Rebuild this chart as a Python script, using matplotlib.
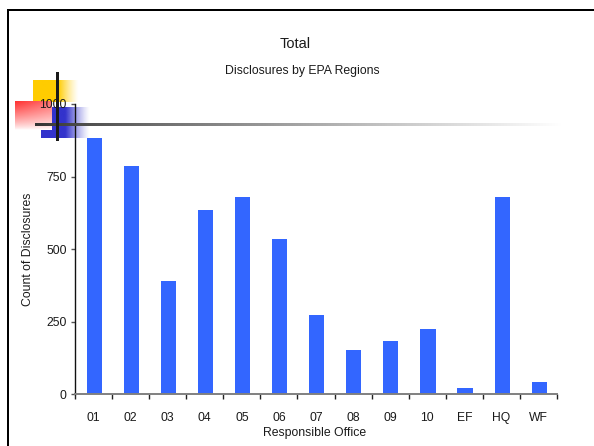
import numpy as np
import matplotlib
matplotlib.use("Agg")
import matplotlib.pyplot as plt
from matplotlib.patches import Rectangle

plt.rcParams['font.family'] = ['Liberation Sans', 'DejaVu Sans']

# Disclosure counts per responsible office
offices = ['01', '02', '03', '04', '05', '06', '07', '08', '09', '10', 'EF', 'HQ', 'WF']
counts = [883, 786, 390, 634, 679, 534, 273, 152, 183, 225, 22, 679, 43]
y_ticks = [0, 250, 500, 750, 1000]

W, H = 594, 446
fig = plt.figure(figsize=(W / 100, H / 100), dpi=100)

# background layer in pixel coordinates: slide frame and corner ornament
bg = fig.add_axes([0, 0, 1, 1], zorder=-1)
bg.set_xlim(0, W)
bg.set_ylim(H, 0)
bg.axis('off')

bg.add_patch(Rectangle((6.7, 9), 2.4, H, color='black', lw=0))
bg.add_patch(Rectangle((6.7, 9), W, 2.4, color='black', lw=0))


def fade_strip(x0, x1, y0, y1, rgb, solid_frac):
    # solid colour on the left, fading out to the right
    n = 200
    xs = np.linspace(0, 1, n)
    a = np.clip((1 - xs) / (1 - solid_frac), 0, 1)
    a = np.where(xs < solid_frac, 1.0, a) ** 1.3
    img = np.zeros((1, n, 4))
    img[..., :3] = rgb
    img[..., 3] = a
    bg.imshow(img, extent=(x0, x1, y1, y0), aspect='auto', interpolation='bilinear')


fade_strip(33, 78.3, 80, 101.7, (1.0, 0.8, 0.0), 0.55)
fade_strip(41, 90, 106.7, 137.7, (0.2, 0.2, 0.8), 0.5)

# red square, opaque gradient from red to white
ny, nx = 60, 80
yy, xx = np.mgrid[0:1:ny * 1j, 0:1:nx * 1j]
f = np.clip(0.95 * (1 - yy) ** 0.8 * (1 - 0.3 * xx), 0, 1)
red = np.ones((ny, nx, 3))
red[..., 1] = 1 - f * 0.85
red[..., 2] = 1 - f * 0.85
bg.imshow(red, extent=(15, 51.7, 130, 101.7), aspect='auto', interpolation='bilinear')

# main bar chart
ax = fig.add_axes([75 / W, 1 - 394.3 / H, 482 / W, 290.3 / H])
ax.set_facecolor('none')
x = np.arange(len(offices))
ax.bar(x + 0.02, counts, width=0.41, color='#3366FF', lw=0, zorder=2)

ax.set_xlim(-0.5, len(offices) - 0.5)
ax.set_ylim(0, 1000)
ax.set_yticks(y_ticks)
ax.set_yticklabels([str(v) for v in y_ticks], fontsize=8.7, color='#1a1a1a')
ax.set_xticks(x)
ax.set_xticklabels(offices, fontsize=8.7, color='#1a1a1a')
ax.set_xticks(np.arange(len(offices) + 1) - 0.5, minor=True)
ax.tick_params(axis='x', which='major', length=0, pad=13)
ax.tick_params(axis='x', which='minor', length=3.5, width=1.0, color='#222222', direction='out')
ax.tick_params(axis='y', length=3, width=1.0, color='#555555', pad=3)

for side in ['top', 'right']:
    ax.spines[side].set_visible(False)
ax.spines['left'].set_color('#111111')
ax.spines['left'].set_linewidth(1.0)
ax.spines['bottom'].set_color('#808080')
ax.spines['bottom'].set_linewidth(1.4)

ax.set_ylabel('Count of Disclosures', fontsize=8.8, color='#1a1a1a')
ax.yaxis.set_label_coords(-0.097, 0.5)
ax.set_xlabel('Responsible Office', fontsize=8.8, color='#1a1a1a')
ax.xaxis.set_label_coords(0.498, -0.132)
ax.xaxis.label.set_va('center')
ax.yaxis.label.set_va('center')

fig.text(295 / W, 1 - 43.5 / H, 'Total', fontsize=10.5, ha='center', va='center', color='#1a1a1a')
fig.text(302 / W, 1 - 70.5 / H, 'Disclosures by EPA Regions', fontsize=8.8,
         ha='center', va='center', color='#1a1a1a')

# crosshair lines of the ornament, drawn over everything
top = fig.add_axes([0, 0, 1, 1], zorder=5)
top.set_facecolor('none')
top.axis('off')
top.add_patch(Rectangle((56.2, 72), 2.8, 68.7, color='#1a1a1a', lw=0))

n = 300
g = 0.2 + 0.8 * np.linspace(0, 1, n) ** 0.85
line = np.zeros((1, n, 3))
line[..., :] = g[None, :, None]
top.imshow(line, extent=(35, 562, 125.6, 123.4), aspect='auto', interpolation='bilinear')
top.set_xlim(0, W)
top.set_ylim(H, 0)

fig.savefig('out.png', dpi=100)
